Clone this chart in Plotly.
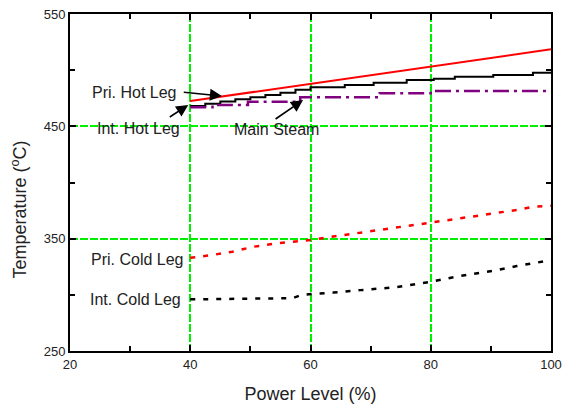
import plotly.graph_objects as go

# Power level (%) and temperatures (deg C) for each loop location
pri_hot_x = [40, 100]
pri_hot_y = [472.5, 518.6]

int_hot_x = [40, 42.5, 45, 47.5, 50, 52.5, 55, 57.5, 60, 65.7, 70.5, 76, 80.5, 84, 90.4, 97, 100]
int_hot_y = [468, 470, 472, 474, 476, 478, 480, 482.5, 484.7, 486.8, 488.8, 491.2, 492.4, 494.2, 495.7, 497.7, 497.7]

steam_x = [40, 43.7, 49.6, 58.3, 71.5, 80, 100]
steam_y = [466.9, 469.0, 471.9, 476.0, 479.4, 481.4, 481.4]

pri_cold_x = [40, 43.6, 47, 50.5, 54.4, 57.2, 60, 62.4, 67.6, 71.5, 77, 80, 84.8, 90.4, 94.3, 97, 100]
pri_cold_y = [333, 335.4, 338.4, 342.8, 345.8, 347.3, 348.8, 350.8, 354.7, 358.2, 362, 364.6, 368, 372.5, 375.5, 378.4, 379.3]

int_cold_x = [40, 50, 57, 58.5, 60, 63.8, 68.3, 74, 80, 84.8, 90.4, 94.3, 100]
int_cold_y = [296, 296.5, 297, 300, 300.4, 302, 304.2, 306.6, 311.6, 316.7, 321.4, 325.6, 330.9]

x_ticks = [20, 40, 60, 80, 100]
y_ticks = [250, 350, 450, 550]

FONT = "Liberation Sans, Arial, sans-serif"
TEXT_COLOR = "#222222"

fig = go.Figure()
fig.add_trace(go.Scatter(x=pri_hot_x, y=pri_hot_y, mode="lines",
                         line=dict(color="#ff0000", width=2)))
fig.add_trace(go.Scatter(x=int_hot_x, y=int_hot_y, mode="lines",
                         line=dict(color="black", width=2, shape="hv")))
fig.add_trace(go.Scatter(x=steam_x, y=steam_y, mode="lines",
                         line=dict(color="#800080", width=2.5, shape="hv",
                                   dash="16px,5px,3px,5px")))
fig.add_trace(go.Scatter(x=pri_cold_x, y=pri_cold_y, mode="lines",
                         line=dict(color="#ff0000", width=2.5, dash="5px,8px")))
fig.add_trace(go.Scatter(x=int_cold_x, y=int_cold_y, mode="lines",
                         line=dict(color="black", width=2.5, dash="5px,8px")))

label_font = dict(family=FONT, size=16, color=TEXT_COLOR)
labels = [
    ("Pri. Hot Leg", 38.0, 480.5, "right"),
    ("Int. Hot Leg", 38.67, 448.5, "right"),
    ("Main Steam", 46.9, 447.2, "left"),
    ("Pri. Cold Leg", 39.34, 331.6, "right"),
    ("Int. Cold Leg", 38.84, 296.0, "right"),
]
for text, x, y, anchor in labels:
    fig.add_annotation(x=x, y=y, text=text, showarrow=False, xanchor=anchor,
                       yanchor="middle", font=label_font)

# Pointer arrows from the labels to their curves: (tail x, tail y, head x, head y)
arrows = [
    (38.67, 480.5, 45.26, 477.0),
    (36.35, 457.4, 39.67, 469.0),
    (53.94, 455.6, 58.76, 473.4),
]
for tx, ty, hx, hy in arrows:
    fig.add_annotation(x=hx, y=hy, ax=tx, ay=ty, axref="x", ayref="y",
                       text="", showarrow=True, arrowhead=2, arrowsize=1.5,
                       arrowwidth=1.6, arrowcolor="black")

# Vertical axis title, placed beside the tick labels
fig.add_annotation(xref="paper", yref="paper", x=-0.106, y=0.42,
                   text="Temperature (<sup>o</sup>C)", textangle=-90,
                   showarrow=False, xanchor="center", yanchor="middle",
                   font=dict(family=FONT, size=18, color=TEXT_COLOR))

grid_color = "#00ee00"
axis_common = dict(
    ticks="inside", ticklen=6, tickwidth=2, tickcolor="black",
    showline=True, linewidth=2, linecolor="black", mirror="allticks",
    showgrid=True, gridcolor=grid_color, gridwidth=2, griddash="8px,2px",
    zeroline=False, automargin=False,
    tickfont=dict(family=FONT, size=13, color=TEXT_COLOR),
)
fig.update_xaxes(
    range=[20, 100], tickvals=x_ticks, ticktext=[str(v) for v in x_ticks],
    minor=dict(dtick=10, tick0=20, ticks="inside", ticklen=5, tickwidth=2,
               tickcolor="black", showgrid=False),
    title=dict(text="Power Level (%)", standoff=17,
               font=dict(family=FONT, size=18, color=TEXT_COLOR)),
    **axis_common,
)
fig.update_yaxes(
    range=[250, 550], tickvals=y_ticks, ticktext=[str(v) for v in y_ticks],
    minor=dict(dtick=50, tick0=250, ticks="inside", ticklen=5, tickwidth=2,
               tickcolor="black", showgrid=False),
    **axis_common,
)
fig.update_layout(
    width=562, height=408, showlegend=False,
    margin=dict(l=70, r=11, t=14, b=57),
    plot_bgcolor="white", paper_bgcolor="white",
)
fig.write_html("out.html")
